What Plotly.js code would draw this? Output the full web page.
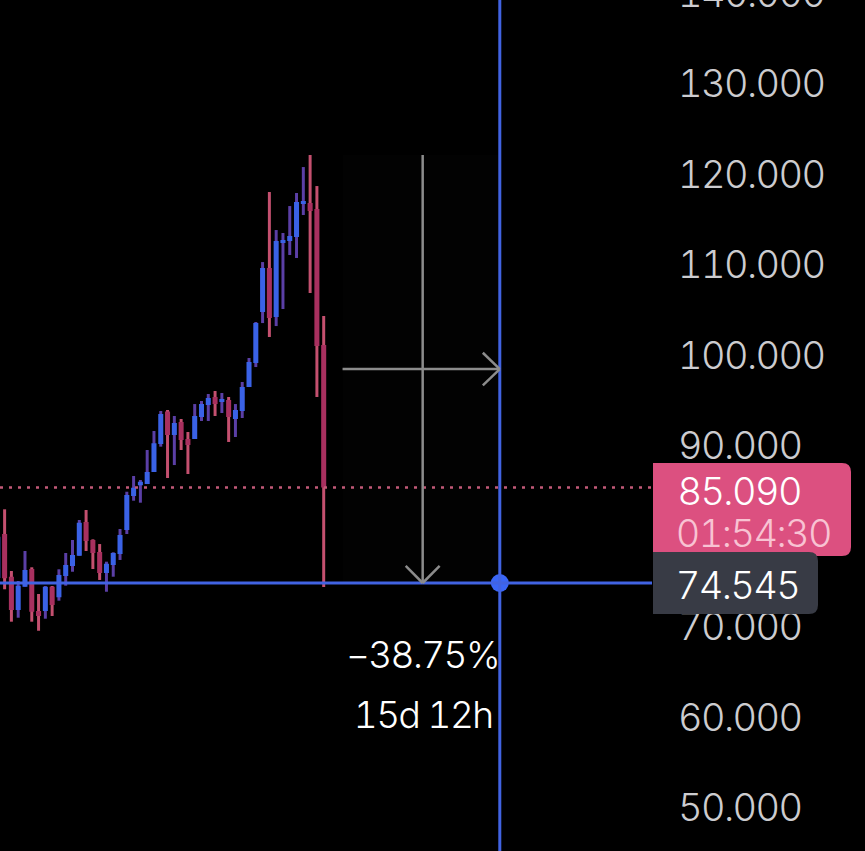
<!DOCTYPE html>
<html><head><meta charset="utf-8">
<script src="https://cdn.plot.ly/plotly-3.0.1.min.js"></script>
<style>html,body{margin:0;padding:0;background:#000;overflow:hidden;width:865px;height:851px}
#c{position:absolute;left:0;top:-60px;width:865px;height:911px}
#c text{font-variant-numeric:tabular-nums;font-feature-settings:'tnum' 1;letter-spacing:-1.6px}</style>
</head><body><div id="c"></div>
<script>
const index=[-1,0,1,2,3,4,5,6,7,8,9,10,11,12,13,14,15,16,17,18,19,20,21,22,23,24,25,26,27,28,29,30,31,32,33,34,35,36,37,38,39,40,41,42,43,44,45,46,47];
const open=[75.1,79.96,75.24,71.56,74.14,76.09,71.45,71.45,74.14,72.97,75.32,76.42,77.56,81.29,79.3,77.97,75.65,76.53,77.75,80.4,84.16,85.34,85.48,86.81,89.9,93.5,90.9,92.34,90.46,90.46,92.89,94.21,95.1,94.55,94.77,92.67,93.55,96.2,98.86,104.49,109.35,103.94,112.11,112.33,112.78,116.42,116.53,115.87,100.84];
const close=[79.66,75.06,71.56,74.25,75.98,71.37,70.9,74.14,72.11,75.43,76.53,77.64,81.21,79.19,77.86,75.65,76.68,77.86,79.85,84.27,85.08,85.74,86.81,89.98,93.22,90.9,92.23,90.35,89.79,93.0,94.32,94.99,94.32,94.88,92.89,93.66,96.2,98.97,103.27,109.35,103.83,112.33,112.45,112.89,116.64,116.75,115.64,100.73,85.09];
const high=[79.66,82.69,75.87,74.77,78.08,76.28,73.33,74.21,74.21,76.06,77.86,79.3,81.51,82.61,79.37,78.85,76.9,77.94,80.51,84.63,86.37,85.93,89.24,91.34,93.55,93.66,93.0,92.67,91.23,94.32,94.66,95.43,95.76,95.54,95.1,94.32,96.76,99.41,103.39,110.01,117.75,113.55,113.22,116.2,117.64,120.51,121.84,118.41,104.05];
const low=[75.1,73.85,70.27,70.71,74.14,70.27,69.27,70.6,70.9,72.59,74.25,75.79,77.56,78.08,76.09,74.88,73.58,75.24,77.09,79.96,83.64,83.42,85.48,86.81,89.61,86.15,87.58,89.24,86.59,90.46,92.45,92.45,93.0,93.33,90.13,90.68,92.78,96.2,98.41,103.27,101.73,102.94,104.82,110.79,110.46,115.21,106.59,95.1,74.1];
const supportPrice=74.545, lastPrice=85.09;
const priceTicks=[50,60,70,90,100,110,120,130,140];
const tickLabels=priceTicks.map(v=>v.toFixed(3));
const pct='\u221238.75%', span='15d 12h', timer='01:54:30';
const dotIndex=72.94, rulerX=49.78, arrowIndex=61.58, rulerTop=121.84, rulerMid=98.19;
const BLUE='#3a62e6', RED='#a8305f', LINEBLUE='#4163e2';
const W=865,H=911,PW=652,TOP=60;
const px=x=>x/PW, py=y=>1-(y+TOP)/H;
function tag(x0,y0,x1,y1,r,col){
 const X0=px(x0),X1=px(x1),Y0=py(y0),Y1=py(y1),rx=r/PW,ry=r/H;
 return {type:'path',xref:'paper',yref:'paper',layer:'above',line:{width:0},fillcolor:col,
  path:`M${X0},${Y0} L${X1-rx},${Y0} Q${X1},${Y0} ${X1},${Y0-ry} L${X1},${Y1+ry} Q${X1},${Y1} ${X1-rx},${Y1} L${X0},${Y1} Z`};
}
const GR='#8c8c8c';
const arrow=(a,b,c,d)=>({type:'line',xref:'x',yref:'y',x0:a,y0:b,x1:c,y1:d,layer:'above',line:{color:GR,width:2.5}});
const traces=[
 {type:'bar',x:index,base:low,y:high.map((h,i)=>h-low[i]),width:0.44,hoverinfo:'skip',
  marker:{color:open.map((o,i)=>close[i]>=o?'#5b3fa6':'#c4506f'),line:{width:0}}},
 {type:'candlestick',x:index,open,close,high:open.map((o,i)=>Math.max(o,close[i])),low:open.map((o,i)=>Math.min(o,close[i])),whiskerwidth:0,hoverinfo:'skip',
  increasing:{line:{color:BLUE,width:0},fillcolor:BLUE},
  decreasing:{line:{color:RED,width:0},fillcolor:RED}},
 {type:'scatter',mode:'markers',x:[dotIndex],y:[supportPrice],marker:{size:18,color:'#3b66f5'},hoverinfo:'skip',cliponaxis:false}
];
const layout={width:W,height:H,margin:{l:0,r:213,t:0,b:0},paper_bgcolor:'#000',plot_bgcolor:'#000',showlegend:false,hovermode:false,
 boxgap:0.26,boxgroupgap:0,boxmode:'overlay',
 font:{family:'Inter, sans-serif'},
 xaxis:{range:[-0.68,95.36],fixedrange:true,rangeslider:{visible:false},showticklabels:false,showgrid:false,zeroline:false,showline:false,ticks:''},
 yaxis:{range:[44.93,145.6],side:'right',tickmode:'array',tickvals:priceTicks,ticktext:tickLabels,showgrid:false,zeroline:false,showline:false,ticks:'',
  ticklabelstandoff:25,ticklabelshift:3,tickfont:{family:'Inter, sans-serif',size:38,color:'#cccccf',weight:300},fixedrange:true},
 shapes:[
  {type:'rect',xref:'x',yref:'y',x0:rulerX,x1:dotIndex,y0:supportPrice,y1:rulerTop,fillcolor:'#020202',line:{width:0},layer:'below'},
  {type:'line',xref:'paper',x0:0,x1:1,yref:'y',y0:lastPrice,y1:lastPrice,line:{color:'#c25a78',width:2.5,dash:'3px,6px'},layer:'above'},
  {type:'line',xref:'paper',x0:0,x1:1,yref:'y',y0:supportPrice,y1:supportPrice,line:{color:LINEBLUE,width:3},layer:'above'},
  {type:'line',xref:'x',x0:dotIndex,x1:dotIndex,yref:'paper',y0:0,y1:1,line:{color:LINEBLUE,width:3},layer:'above'},
  arrow(arrowIndex,rulerTop,arrowIndex,supportPrice),
  arrow(arrowIndex-2.5,supportPrice+1.88,arrowIndex,supportPrice),
  arrow(arrowIndex+2.5,supportPrice+1.88,arrowIndex,supportPrice),
  arrow(rulerX,rulerMid,dotIndex,rulerMid),
  arrow(dotIndex-2.5,rulerMid+1.8,dotIndex,rulerMid),
  arrow(dotIndex-2.5,rulerMid-1.8,dotIndex,rulerMid),
  tag(653,463,851,556,9,'#dc5080'),
  tag(653,552,818,614,9,'#383b45')
 ],
 annotations:[
  {xref:'paper',yref:'paper',x:px(675),y:py(491),xanchor:'left',yanchor:'middle',text:lastPrice.toFixed(3),showarrow:false,font:{size:38,color:'#fff',weight:300}},
  {xref:'paper',yref:'paper',x:px(675),y:py(533),xanchor:'left',yanchor:'middle',text:timer,showarrow:false,font:{size:38,color:'#f8c3d3',weight:300}},
  {xref:'paper',yref:'paper',x:px(675),y:py(585),xanchor:'left',yanchor:'middle',text:supportPrice.toFixed(3),showarrow:false,font:{size:38,color:'#fff',weight:300}},
  {xref:'x',yref:'paper',x:arrowIndex,y:py(654),xanchor:'center',yanchor:'middle',text:pct,showarrow:false,font:{size:37,color:'#fff',weight:300}},
  {xref:'x',yref:'paper',x:arrowIndex,y:py(714),xanchor:'center',yanchor:'middle',text:span,showarrow:false,font:{size:37,color:'#fff',weight:300}}
 ]
};
Plotly.newPlot('c',traces,layout,{displayModeBar:false});
</script></body></html>
